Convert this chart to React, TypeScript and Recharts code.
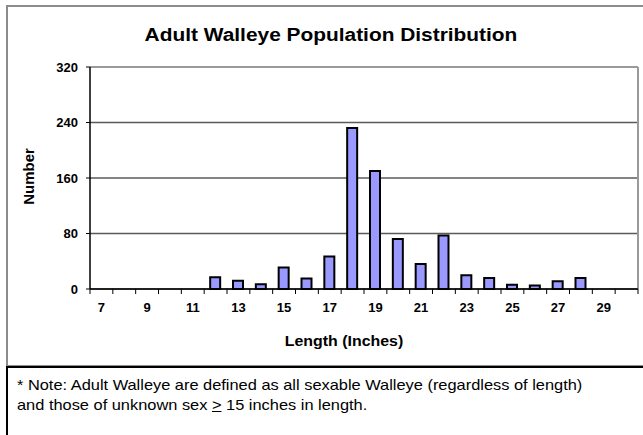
import React from "react";
import { BarChart, Bar, XAxis, YAxis, CartesianGrid, ReferenceLine } from "recharts";

const FONT = "Arial, 'Liberation Sans', sans-serif";

const lengths = [7, 8, 9, 10, 11, 12, 13, 14, 15, 16, 17, 18, 19, 20, 21, 22, 23, 24, 25, 26, 27, 28, 29, 30];
const counts = [0, 0, 0, 0, 0, 17, 12, 7, 31, 15, 47, 232, 170, 72, 36, 77, 20, 16, 6, 5, 11, 16, 0, 0];
const xLabelTicks = [7, 9, 11, 13, 15, 17, 19, 21, 23, 25, 27, 29];
const xBoundaryTicks = [6.5, 7.5, 8.5, 9.5, 10.5, 11.5, 12.5, 13.5, 14.5, 15.5, 16.5, 17.5, 18.5, 19.5, 20.5, 21.5, 22.5, 23.5, 24.5, 25.5, 26.5, 27.5, 28.5, 29.5, 30.5];
const yTicks = [0, 80, 160, 240, 320];

const data = lengths.map((l, i) => ({ length: l, count: counts[i] }));
const xTicks = [...xBoundaryTicks, ...xLabelTicks].sort((a, b) => a - b);

const XTick = (props: any) => {
  const { x, y, payload } = props;
  const v = payload.value;
  if (Number.isInteger(v)) {
    return (
      <text x={x} y={y + 14} dy="0.71em" textAnchor="middle" fontSize={13} fontWeight="bold" fill="#000" fontFamily={FONT}>
        {v}
      </text>
    );
  }
  return <line x1={x} x2={x} y1={y} y2={y + 5} stroke="#000" strokeWidth={1} />;
};

export default function App() {
  return (
    <div style={{ position: "absolute", left: 0, top: 0, width: 643, height: 435, overflow: "hidden", background: "#fff", fontFamily: FONT }}>
      <div style={{ position: "absolute", left: 6, top: 5, width: 680, height: 358, border: "2px solid #8c8c8c" }} />
      <div style={{ position: "absolute", left: 6, top: 366, width: 680, height: 100, borderTop: "2px solid #000", borderLeft: "2px solid #000" }} />
      <div style={{ position: "absolute", left: 0, top: 0 }}>
        <BarChart width={643} height={365} data={data} margin={{ top: 67, right: 5, bottom: 46, left: 0 }}>
          <CartesianGrid vertical={false} stroke="#5a5a5a" strokeWidth={1.3} />
          <ReferenceLine y={320} stroke="#9a9a9a" strokeWidth={2} />
          <ReferenceLine x={30.5} stroke="#9a9a9a" strokeWidth={2} />
          <XAxis
            type="number"
            dataKey="length"
            domain={[6.5, 30.5]}
            ticks={xTicks}
            interval={0}
            tickLine={false}
            tickSize={0}
            tickMargin={0}
            height={30}
            axisLine={{ stroke: "#000", strokeWidth: 1.5 }}
            tick={<XTick />}
            allowDecimals
          />
          <YAxis
            domain={[0, 320]}
            ticks={yTicks}
            interval={0}
            width={90}
            tickSize={4}
            tickMargin={8}
            axisLine={{ stroke: "#000", strokeWidth: 1.5 }}
            tickLine={{ stroke: "#000" }}
            tick={{ fill: "#000", fontSize: 13, fontWeight: "bold", fontFamily: FONT }}
          />
          <Bar dataKey="count" fill="#9999ff" stroke="#000" strokeWidth={2} barSize={10} isAnimationActive={false} />
        </BarChart>
      </div>
      <div style={{ position: "absolute", left: 131, top: 25, width: 400, textAlign: "center", fontSize: 18, fontWeight: "bold", color: "#000", whiteSpace: "nowrap", transform: "scaleX(1.16)" }}>
        Adult Walleye Population Distribution
      </div>
      <div style={{ position: "absolute", left: 244, top: 332, width: 200, textAlign: "center", fontSize: 15, fontWeight: "bold", color: "#000", whiteSpace: "nowrap", transform: "scaleX(1.06)" }}>
        Length (Inches)
      </div>
      <div style={{ position: "absolute", left: -22, top: 168, width: 100, textAlign: "center", fontSize: 15, fontWeight: "bold", color: "#000", transform: "rotate(-90deg)", whiteSpace: "nowrap" }}>
        Number
      </div>
      <div style={{ position: "absolute", left: 17, top: 375, fontSize: 14.5, color: "#000", lineHeight: "20px", whiteSpace: "nowrap", transform: "scaleX(1.13)", transformOrigin: "left top" }}>
        * Note: Adult Walleye are defined as all sexable Walleye (regardless of length)
        <br />
        and those of unknown sex <u>&gt;</u> 15 inches in length.
      </div>
    </div>
  );
}
